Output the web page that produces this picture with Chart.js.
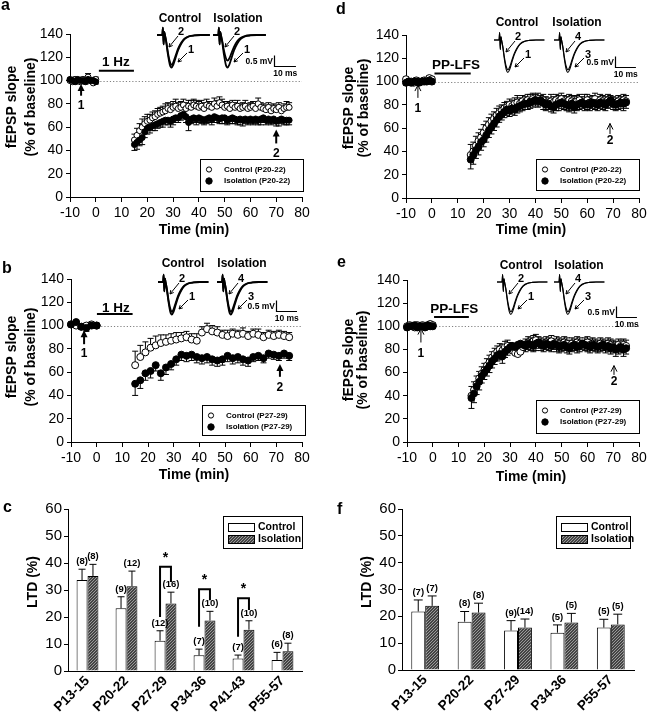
<!DOCTYPE html>
<html>
<head>
<meta charset="utf-8">
<script src="https://cdn.jsdelivr.net/npm/chart.js@4.4.1/dist/chart.umd.min.js"></script>
<style>
  html, body { margin: 0; padding: 0; background: #fff; }
  body { position: relative; width: 648px; height: 713px; overflow: hidden; }
  canvas { position: absolute; }
</style>
</head>
<body>
<canvas id="chart-a"></canvas>
<canvas id="chart-b"></canvas>
<canvas id="chart-c"></canvas>
<canvas id="chart-d"></canvas>
<canvas id="chart-e"></canvas>
<canvas id="chart-f"></canvas>
<script>
const FONT = "'Liberation Sans', Arial, Helvetica, sans-serif";
Chart.defaults.font.family = FONT;
Chart.defaults.color = "#000";
Chart.defaults.animation = false;
Chart.defaults.plugins.legend.display = false;
Chart.defaults.plugins.tooltip.enabled = false;

// ---- time axes (min) ----
const baseT = [-10, -9, -8, -7, -6, -5, -4, -3, -2, -1, 0];
const postT = [15, 16, 17, 18, 19, 20, 21, 22, 23, 24, 25, 26, 27, 28, 29, 30, 31, 32, 33, 34, 35, 36, 37, 38, 39, 40,
  41, 42, 43, 44, 45, 46, 47, 48, 49, 50, 51, 52, 53, 54, 55, 56, 57, 58, 59, 60, 61, 62, 63, 64, 65, 66, 67, 68, 69, 70,
  71, 72, 73, 74, 75];
const baseT2 = [-10, -8, -6, -4, -2, 0];
const postT2 = [15, 17, 19, 21, 23, 25, 27, 29, 31, 33, 35, 37, 39, 41, 43, 45, 47, 49, 51, 53, 55, 57, 59, 61, 63, 65,
  67, 69, 71, 73, 75];
const timeA = baseT.concat(postT);
const timeB = baseT2.concat(postT2);

// ---- panel a: 1 Hz, P20-22 (baseline values first, then post-stimulation) ----
const aControl = [100, 99, 101, 100, 99, 101, 100, 103, 100, 98, 101,
  49, 53, 57, 60, 63, 65, 66, 68, 69, 71, 72, 73, 74, 76, 75, 77, 78, 76, 77, 79, 76, 78, 77, 79, 78, 77, 78, 76, 79, 78,
  77, 80, 78, 81, 79, 77, 78, 76, 79, 77, 78, 76, 77, 78, 76, 77, 78, 76, 80, 77, 76, 75, 77, 74, 76, 75, 77, 74, 76, 77, 77];
const aControlErr = [2, 2, 2, 2, 2, 2, 2, 3, 2, 2, 2,
  5, 6, 6, 7, 6, 6, 5, 5, 5, 5, 5, 5, 6, 5, 5, 5, 6, 5, 5, 5, 5, 5, 6, 5, 5, 5, 5, 5, 5, 4,
  5, 5, 5, 5, 5, 5, 4, 5, 4, 4, 5, 4, 4, 5, 4, 4, 4, 4, 5, 4, 4, 4, 4, 5, 4, 4, 4, 4, 4, 5, 4];
const aIsolation = [101, 100, 99, 101, 100, 100, 99, 101, 100, 100, 99,
  45, 47, 49, 51, 56, 59, 60, 61, 62, 63, 64, 65, 66, 66, 65, 67, 68, 68, 70, 71, 69, 64, 67, 68, 67, 68, 67, 66, 67, 68,
  67, 69, 68, 67, 68, 68, 66, 67, 68, 67, 66, 67, 66, 67, 66, 67, 66, 67, 66, 67, 68, 66, 67, 66, 67, 65, 66, 67, 66, 66, 66];
const aIsolationErr = [2, 2, 2, 2, 2, 2, 2, 2, 2, 2, 2,
  5, 6, 5, 6, 5, 5, 5, 4, 5, 4, 4, 5, 4, 4, 5, 5, 4, 4, 4, 4, 5, 7, 4, 4, 5, 4, 4, 4, 4, 4,
  5, 5, 4, 4, 5, 5, 4, 4, 5, 4, 4, 5, 5, 4, 4, 4, 4, 4, 4, 5, 4, 4, 4, 4, 4, 4, 5, 4, 4, 4, 4];

// ---- panel b: 1 Hz, P27-29 ----
const bControl = [101, 100, 99, 100, 101, 100,
  66, 73, 77, 81, 83, 85, 86, 87, 88, 89, 90, 88, 87, 94, 97, 95, 94, 92, 91, 93, 92, 93, 91, 93, 92, 90, 92, 91, 92, 91, 90];
const bControlErr = [2, 2, 2, 2, 2, 2,
  12, 10, 9, 8, 8, 7, 6, 6, 6, 5, 5, 5, 6, 5, 5, 5, 5, 4, 5, 4, 4, 5, 4, 4, 5, 4, 4, 4, 4, 4, 4];
const bIsolation = [101, 103, 99, 98, 100, 100,
  50, 53, 59, 61, 66, 59, 64, 67, 71, 75, 74, 75, 73, 72, 73, 71, 70, 71, 74, 72, 73, 71, 70, 73, 74, 72, 76, 75, 74, 76, 74];
const bIsolationErr = [2, 2, 2, 3, 2, 2,
  10, 7, 6, 6, 5, 6, 6, 5, 5, 5, 5, 5, 5, 5, 5, 5, 5, 5, 5, 5, 5, 5, 5, 4, 4, 4, 4, 4, 4, 4, 4];

// ---- panel d: PP-LFS, P20-22 ----
const dControl = [102, 100, 100, 99, 101, 100, 100, 101, 101, 103, 102,
  37, 40, 45, 49, 52, 56, 60, 63, 66, 68, 71, 73, 75, 77, 78, 80, 79, 81, 82, 81, 83, 82, 84, 83, 85, 84, 85, 83, 84, 82,
  81, 83, 82, 84, 83, 85, 83, 82, 84, 83, 82, 83, 84, 82, 83, 84, 82, 83, 85, 82, 84, 83, 82, 84, 83, 82, 81, 83, 82, 84, 83];
const dControlErr = [2, 2, 2, 2, 2, 2, 2, 2, 2, 2, 2,
  9, 8, 8, 7, 7, 7, 6, 6, 6, 6, 6, 6, 5, 5, 5, 5, 5, 5, 6, 5, 5, 5, 5, 6, 5, 5, 5, 5, 5, 5,
  5, 6, 5, 5, 5, 5, 5, 5, 5, 5, 5, 5, 5, 5, 6, 5, 5, 5, 5, 5, 5, 5, 5, 5, 5, 5, 5, 5, 5, 5, 5];
const dIsolation = [99, 100, 99, 100, 100, 99, 100, 100, 100, 101, 100,
  33, 37, 41, 44, 48, 50, 54, 58, 61, 64, 67, 70, 72, 74, 76, 75, 77, 76, 78, 79, 80, 81, 81, 82, 83, 84, 83, 84, 82, 80,
  81, 79, 78, 80, 81, 82, 81, 80, 79, 81, 78, 80, 81, 82, 80, 81, 80, 82, 81, 80, 82, 81, 80, 82, 84, 81, 80, 81, 82, 81, 82];
const dIsolationErr = [2, 2, 2, 2, 2, 2, 2, 2, 2, 2, 2,
  8, 8, 7, 7, 7, 6, 6, 6, 6, 6, 6, 5, 5, 5, 5, 5, 5, 5, 5, 5, 5, 5, 5, 5, 5, 5, 5, 5, 6, 5,
  5, 5, 5, 5, 6, 5, 5, 5, 5, 6, 5, 5, 5, 5, 5, 5, 5, 5, 5, 5, 5, 5, 5, 5, 6, 5, 5, 5, 5, 6, 5];

// ---- panel e: PP-LFS, P27-29 ----
const eControl = [100, 101, 100, 99, 101, 100, 101, 100, 100, 102, 101,
  40, 45, 50, 55, 59, 62, 66, 69, 73, 76, 78, 80, 79, 82, 83, 81, 79, 77, 76, 78, 82, 84, 86, 85, 87, 88, 86, 85, 84, 86,
  85, 87, 84, 86, 85, 84, 86, 85, 83, 85, 84, 86, 85, 83, 85, 86, 84, 85, 84, 83, 85, 84, 83, 85, 84, 83, 82, 84, 83, 84, 83];
const eControlErr = [2, 2, 2, 2, 2, 2, 2, 2, 2, 2, 2,
  8, 7, 7, 6, 6, 6, 6, 6, 5, 5, 5, 5, 5, 5, 5, 5, 5, 5, 5, 4, 5, 5, 5, 5, 5, 5, 5, 5, 5, 5,
  5, 5, 5, 5, 5, 5, 5, 5, 5, 5, 5, 5, 5, 5, 5, 5, 5, 5, 5, 5, 5, 5, 5, 5, 5, 5, 5, 5, 5, 5, 5];
const eIsolation = [99, 100, 100, 101, 99, 100, 100, 99, 101, 100, 100,
  38, 42, 48, 52, 57, 60, 63, 66, 70, 72, 75, 76, 74, 78, 80, 82, 83, 82, 84, 85, 84, 83, 85, 84, 83, 85, 86, 84, 83, 85,
  84, 83, 85, 84, 82, 83, 84, 82, 81, 83, 84, 82, 83, 85, 84, 83, 82, 84, 83, 82, 83, 84, 82, 83, 81, 82, 80, 81, 82, 80, 81];
const eIsolationErr = [2, 2, 2, 2, 2, 2, 2, 2, 2, 2, 2,
  9, 8, 7, 7, 6, 6, 6, 6, 6, 5, 5, 5, 6, 5, 5, 5, 5, 5, 5, 5, 5, 5, 5, 5, 5, 6, 5, 5, 5, 5,
  5, 5, 5, 6, 5, 5, 5, 5, 5, 5, 5, 5, 5, 5, 5, 5, 5, 5, 5, 5, 5, 5, 5, 5, 5, 5, 6, 5, 5, 6, 5];

// ---- inset fEPSP traces (ms, mV) ----
const traceMs = [0, 2.4, 2.7, 3.0, 3.3, 3.6, 4.2, 5.0, 5.8, 6.6, 7.4, 8.4, 9.6, 11, 12.5, 14.5, 17, 20, 24];
const traceDeep = [0, 0, 0.35, -0.45, 0.15, 0, -0.35, -0.95, -1.4, -1.55, -1.42, -1.1, -0.72, -0.42, -0.2, -0.07, -0.02, 0, 0];
const traceMid = [0, 0, 0.35, -0.45, 0.15, 0, -0.3, -0.85, -1.25, -1.42, -1.3, -1.0, -0.65, -0.37, -0.17, -0.06, -0.02, 0, 0];
const traceShallow = [0, 0, 0.35, -0.45, 0.15, 0, -0.28, -0.75, -1.08, -1.22, -1.12, -0.86, -0.55, -0.3, -0.14, -0.05, -0.01, 0, 0];

// ---- LTD bar data ----
const cCategories = ["P13-15", "P20-22", "P27-29", "P34-36", "P41-43", "P55-57"];
const cControl = [33.7, 23.2, 11.2, 5.8, 4.6, 4.1];
const cControlErr = [4.0, 4.3, 3.7, 2.3, 1.3, 2.8];
const cIsolation = [35.2, 31.4, 25.0, 18.7, 15.3, 7.3];
const cIsolationErr = [4.3, 5.6, 4.2, 3.4, 3.3, 3.0];
const cControlN = [8, 9, 12, 7, 7, 6];
const cIsolationN = [8, 12, 16, 10, 10, 8];
const cSignificance = [
  { i: 2, top: 38.6, left: 20, right: 33 },
  { i: 3, top: 30.3, left: 16.4, right: 26.2 },
  { i: 4, top: 26.9, left: 12.7, right: 22.6 },
];

const fCategories = ["P13-15", "P20-22", "P27-29", "P34-36", "P55-57"];
const fControl = [21.8, 18.0, 14.7, 13.9, 15.8];
const fControlErr = [4.3, 3.8, 3.7, 2.9, 3.1];
const fIsolation = [23.9, 21.4, 15.8, 17.7, 17.0];
const fIsolationErr = [3.7, 3.5, 3.2, 3.4, 3.8];
const fControlN = [7, 8, 9, 5, 5];
const fIsolationN = [7, 8, 14, 5, 5];

// ---------- helpers ----------
function pts(ts, vs) {
  return ts.map((t, i) => ({ x: t, y: vs[i] }));
}

function font(size, bold) {
  return (bold ? "bold " : "") + size + "px " + FONT;
}

function label(ctx, s, x, y, size, bold, align, base) {
  ctx.font = font(size, bold);
  ctx.fillStyle = "#000";
  ctx.textAlign = align || "center";
  ctx.textBaseline = base || "middle";
  ctx.fillText(s, x, y);
}

function vLabel(ctx, lines, xs, y, size) {
  lines.forEach((s, i) => {
    ctx.save();
    ctx.translate(xs[i], y);
    ctx.rotate(-Math.PI / 2);
    label(ctx, s, 0, 0, size, true);
    ctx.restore();
  });
}

// canvas placed at box; chart area forced to area (page coordinates)
function place(canvas, box, area) {
  canvas.width = box.w;
  canvas.height = box.h;
  Object.assign(canvas.style, {
    left: box.x + "px", top: box.y + "px", width: box.w + "px", height: box.h + "px",
  });
  return {
    padding: { left: 0, top: area.t - box.y, right: box.x + box.w - area.r, bottom: 0 },
    fitX: (s) => { s.height = box.y + box.h - area.b; s.paddingLeft = 0; s.paddingRight = 0; },
    fitY: (s) => { s.width = area.l - box.x; s.paddingTop = 0; s.paddingBottom = 0; },
  };
}

// fine stipple fill for the Isolation bars
function makeHatch() {
  const c = document.createElement("canvas");
  c.width = 3;
  c.height = 3;
  const g = c.getContext("2d");
  g.fillStyle = "#444";
  g.fillRect(0, 0, 3, 3);
  g.fillStyle = "#9a9a9a";
  for (let i = 0; i < 3; i++) g.fillRect(i, 2 - i, 1, 1);
  return g.createPattern(c, "repeat");
}
const HATCH = makeHatch();

// ---------- time course panels ----------
function timeDecor(p) {
  const lx = (x) => x - p.box.x;
  const ly = (y) => y - p.box.y;
  return {
    id: "decor",
    beforeDatasetsDraw(chart) {
      const { ctx, scales: { x, y } } = chart;
      ctx.save();
      // dotted 100% line
      ctx.strokeStyle = "#808080";
      ctx.lineWidth = 1;
      ctx.setLineDash([1.2, 2]);
      const y100 = Math.round(y.getPixelForValue(100)) + 0.5;
      ctx.beginPath();
      ctx.moveTo(x.getPixelForValue(p.dotted[0]), y100);
      ctx.lineTo(x.getPixelForValue(p.dotted[1]), y100);
      ctx.stroke();
      ctx.setLineDash([]);
      // error bars
      ctx.strokeStyle = "#000";
      ctx.lineWidth = 1;
      ctx.beginPath();
      chart.data.datasets.forEach((ds, di) => {
        if (!ds.errors) return;
        chart.getDatasetMeta(di).data.forEach((pt, i) => {
          const y2 = y.getPixelForValue(ds.data[i].y + ds.errDir * ds.errors[i]);
          ctx.moveTo(pt.x, pt.y);
          ctx.lineTo(pt.x, y2);
          ctx.moveTo(pt.x - 3, y2);
          ctx.lineTo(pt.x + 3, y2);
        });
      });
      ctx.stroke();
      ctx.restore();
    },
    afterDatasetsDraw(chart) {
      const { ctx, scales } = chart;
      const { x, y } = scales;
      ctx.save();
      // panel letter and axis titles
      label(ctx, p.letter, lx(p.letterAt[0]), ly(p.letterAt[1]), 16, true, "left", "alphabetic");
      label(ctx, "Time (min)", lx(p.xTitle[0]), ly(p.xTitle[1]), 14, true);
      vLabel(ctx, ["fEPSP slope", "(% of baseline)"], p.yTitle.x.map(lx), ly(p.yTitle.y), 14);

      // stimulation bar
      const s = p.stim;
      ctx.strokeStyle = "#000";
      ctx.lineWidth = 2;
      ctx.beginPath();
      ctx.moveTo(x.getPixelForValue(s.from), y.getPixelForValue(s.at));
      ctx.lineTo(x.getPixelForValue(s.to), y.getPixelForValue(s.at));
      ctx.stroke();
      label(ctx, s.text, x.getPixelForValue(s.textT), y.getPixelForValue(s.textAt), 13.5, true);

      // sample arrows 1, 2
      p.arrows.forEach((a) => {
        const ax = x.getPixelForValue(a.t);
        const tip = y.getPixelForValue(a.tip);
        const tail = y.getPixelForValue(a.tail);
        ctx.beginPath();
        if (p.heavy) {
          ctx.lineWidth = 2;
          ctx.moveTo(ax, tip + 5);
          ctx.lineTo(ax, tail);
          ctx.stroke();
          ctx.beginPath();
          ctx.moveTo(ax, tip);
          ctx.lineTo(ax - 3.5, tip + 7);
          ctx.lineTo(ax + 3.5, tip + 7);
          ctx.closePath();
          ctx.fillStyle = "#000";
          ctx.fill();
        } else {
          ctx.lineWidth = 1;
          ctx.moveTo(ax, tip);
          ctx.lineTo(ax, tail);
          ctx.moveTo(ax - 3, tip + 6);
          ctx.lineTo(ax, tip);
          ctx.lineTo(ax + 3, tip + 6);
          ctx.stroke();
        }
        label(ctx, a.label, ax, y.getPixelForValue(a.at), 12, true);
      });

      // legend box
      const lg = p.legend;
      ctx.lineWidth = 1;
      ctx.strokeStyle = "#000";
      ctx.strokeRect(Math.round(lx(lg.x)) + 0.5, Math.round(ly(lg.y)) + 0.5, lg.w, lg.h);
      [0, 1].forEach((di) => {
        const ds = chart.data.datasets[di];
        const ry = ly(lg.y) + (di === 0 ? 10.5 : 22);
        ctx.beginPath();
        ctx.arc(lx(lg.x) + 9, ry, di === 0 ? 2.6 : 3.2, 0, Math.PI * 2);
        ctx.fillStyle = ds.pointBackgroundColor;
        ctx.fill();
        ctx.lineWidth = 1;
        ctx.stroke();
        label(ctx, ds.label, lx(lg.x) + 24, ry, 8, true, "left");
      });

      // inset titles, trace numbers and scale bar
      const ins = p.inset;
      label(ctx, "Control", lx(ins.ctrlTitle[0]), ly(ins.ctrlTitle[1]), 12, true);
      label(ctx, "Isolation", lx(ins.isoTitle[0]), ly(ins.isoTitle[1]), 12, true);
      const ty = scales.ty;
      [["tc", ins.ctrlNums], ["ti", ins.isoNums]].forEach(([axis, nums]) => {
        const ox = scales[axis].getPixelForValue(0);
        const oy = ty.getPixelForValue(0);
        const marks = [
          { n: nums[0], t: [24, -3], a: [21, 1], b: [12, 12] },
          { n: nums[1], t: [34, 15], a: [30, 18], b: [21, 27] },
        ];
        marks.forEach((m) => {
          label(ctx, m.n, ox + m.t[0], oy + m.t[1], 11, true);
          const x1 = ox + m.a[0], y1 = oy + m.a[1], x2 = ox + m.b[0], y2 = oy + m.b[1];
          ctx.lineWidth = 1;
          ctx.beginPath();
          ctx.moveTo(x1, y1);
          ctx.lineTo(x2, y2);
          const ang = Math.atan2(y2 - y1, x2 - x1);
          ctx.moveTo(x2 - 4 * Math.cos(ang - 0.5), y2 - 4 * Math.sin(ang - 0.5));
          ctx.lineTo(x2, y2);
          ctx.lineTo(x2 - 4 * Math.cos(ang + 0.5), y2 - 4 * Math.sin(ang + 0.5));
          ctx.stroke();
        });
      });
      const bx = Math.round(scales.ti.getPixelForValue(ins.bar.ms)) + 0.5;
      const by = Math.round(ty.getPixelForValue(ins.bar.mv)) + 0.5;
      const byTop = ty.getPixelForValue(ins.bar.mv + 0.5);
      const bxEnd = scales.ti.getPixelForValue(ins.bar.ms + 10);
      ctx.lineWidth = 1.2;
      ctx.beginPath();
      ctx.moveTo(bx, byTop);
      ctx.lineTo(bx, by);
      ctx.lineTo(bxEnd, by);
      ctx.stroke();
      label(ctx, "0.5 mV", bx - 1.5, (by + byTop) / 2 + 1, 8.5, true, "right");
      label(ctx, "10 ms", (bx + bxEnd) / 2, by + 7, 8.5, true);
      ctx.restore();
    },
  };
}

function renderTimeCourse(id, p) {
  const canvas = document.getElementById(id);
  const lay = place(canvas, p.box, p.area);
  const W = p.area.r - p.area.l;
  const H = p.area.b - p.area.t;
  const ins = p.inset;
  const tcMin = (p.area.l - ins.ctrlX) / ins.pxMs;
  const tiMin = (p.area.l - ins.isoX) / ins.pxMs;
  const tyMax = (ins.baseY - p.area.t) / ins.pxMv;

  const traceSet = (vals, axis) => ({
    type: "line",
    data: pts(traceMs, vals),
    xAxisID: axis,
    yAxisID: "ty",
    borderColor: "#000",
    borderWidth: p.heavy ? 1.8 : 1.1,
    pointRadius: 0,
    tension: 0.4,
    cubicInterpolationMode: "monotone",
    clip: false,
    order: 3,
  });

  const axisStyle = {
    grid: { drawOnChartArea: false, color: "#000" },
    border: { color: "#000", width: 1 },
  };

  new Chart(canvas, {
    type: "scatter",
    data: {
      datasets: [
        {
          label: p.labels[0], data: pts(p.t, p.ctrl), errors: p.ctrlErr, errDir: 1,
          pointRadius: p.r, pointBackgroundColor: "#fff", pointBorderColor: "#000", pointBorderWidth: 1,
          order: 1, clip: false,
        },
        {
          label: p.labels[1], data: pts(p.t, p.iso), errors: p.isoErr, errDir: -1,
          pointRadius: p.r, pointBackgroundColor: "#000", pointBorderColor: "#000", pointBorderWidth: 1,
          order: 0, clip: false,
        },
        ...ins.ctrlTraces.map((v) => traceSet(v, "tc")),
        ...ins.isoTraces.map((v) => traceSet(v, "ti")),
      ],
    },
    options: {
      responsive: false,
      events: [],
      layout: { padding: lay.padding, autoPadding: false },
      scales: {
        x: {
          type: "linear", min: -10, max: 80,
          ticks: { stepSize: 10, font: { size: 14 }, padding: 3, minRotation: 0, maxRotation: 0, autoSkip: false },
          grid: { ...axisStyle.grid, tickLength: 5 }, border: axisStyle.border,
          afterFit: lay.fitX,
        },
        y: {
          type: "linear", min: 0, max: 140,
          ticks: { stepSize: 20, font: { size: 14 }, padding: 3, autoSkip: false },
          grid: { ...axisStyle.grid, tickLength: 4 }, border: axisStyle.border,
          afterFit: lay.fitY,
        },
        tc: { type: "linear", axis: "x", display: false, bounds: "data", min: tcMin, max: tcMin + W / ins.pxMs },
        ti: { type: "linear", axis: "x", display: false, bounds: "data", min: tiMin, max: tiMin + W / ins.pxMs },
        ty: { type: "linear", axis: "y", display: false, bounds: "data", min: tyMax - H / ins.pxMv, max: tyMax },
      },
    },
    plugins: [timeDecor(p)],
  });
}

// ---------- LTD bar panels ----------
function barDecor(p) {
  const lx = (x) => x - p.box.x;
  const ly = (y) => y - p.box.y;
  return {
    id: "decor",
    afterDatasetsDraw(chart) {
      const { ctx, scales: { y } } = chart;
      ctx.save();
      label(ctx, p.letter, lx(p.letterAt[0]), ly(p.letterAt[1]), 16, true, "left", "alphabetic");
      vLabel(ctx, ["LTD (%)"], [lx(p.yTitle.x)], ly(p.yTitle.y), 14);

      // error bars and n labels
      ctx.strokeStyle = "#000";
      ctx.lineWidth = 1;
      chart.data.datasets.forEach((ds, di) => {
        chart.getDatasetMeta(di).data.forEach((bar, i) => {
          const top = y.getPixelForValue(ds.data[i] + ds.errors[i]);
          const cap = bar.width * 0.32;
          ctx.beginPath();
          ctx.moveTo(bar.x, bar.y);
          ctx.lineTo(bar.x, top);
          ctx.moveTo(bar.x - cap, top);
          ctx.lineTo(bar.x + cap, top);
          ctx.stroke();
          label(ctx, "(" + ds.n[i] + ")", bar.x, top - 3, 9.5, true, "center", "bottom");
        });
      });

      // significance brackets
      (p.sig || []).forEach((s) => {
        const x1 = chart.getDatasetMeta(0).data[s.i].x;
        const x2 = chart.getDatasetMeta(1).data[s.i].x;
        const yt = y.getPixelForValue(s.top);
        ctx.lineWidth = 2;
        ctx.beginPath();
        ctx.moveTo(x1, y.getPixelForValue(s.left));
        ctx.lineTo(x1, yt);
        ctx.lineTo(x2, yt);
        ctx.lineTo(x2, y.getPixelForValue(s.right));
        ctx.stroke();
        label(ctx, "*", (x1 + x2) / 2, yt - 2, 14, true, "center", "bottom");
      });

      // legend
      const lg = p.legend;
      ctx.lineWidth = 1;
      ctx.strokeRect(Math.round(lx(lg.x)) + 0.5, Math.round(ly(lg.y)) + 0.5, lg.w, lg.h);
      chart.data.datasets.forEach((ds, di) => {
        const ry = ly(lg.y) + (di === 0 ? 11 : 23);
        const sx = Math.round(lx(lg.x) + 5) + 0.5;
        ctx.fillStyle = ds.backgroundColor;
        ctx.fillRect(sx, Math.round(ry - 4) + 0.5, 26, 8);
        ctx.strokeRect(sx, Math.round(ry - 4) + 0.5, 26, 8);
        label(ctx, ds.label, lx(lg.x) + 35, ry, 10.5, true, "left");
      });
      ctx.restore();
    },
  };
}

function renderBars(id, p) {
  const canvas = document.getElementById(id);
  const lay = place(canvas, p.box, p.area);
  new Chart(canvas, {
    type: "bar",
    data: {
      labels: p.cats,
      datasets: [
        { label: "Control", data: p.ctrl, errors: p.ctrlErr, n: p.ctrlN, backgroundColor: "#fff", borderColor: "#000", borderWidth: 1 },
        { label: "Isolation", data: p.iso, errors: p.isoErr, n: p.isoN, backgroundColor: HATCH, borderColor: "#000", borderWidth: 1 },
      ],
    },
    options: {
      responsive: false,
      events: [],
      layout: { padding: lay.padding, autoPadding: false },
      datasets: { bar: { categoryPercentage: p.catPct, barPercentage: 1 } },
      scales: {
        x: {
          ticks: { font: { size: 13.5, weight: "bold" }, minRotation: 45, maxRotation: 45, padding: 2, autoSkip: false },
          grid: { display: false, drawTicks: false },
          border: { color: "#000", width: 1 },
          afterFit: lay.fitX,
        },
        y: {
          min: 0, max: 60,
          ticks: { stepSize: 10, font: { size: 15 }, padding: 2, autoSkip: false },
          grid: { drawOnChartArea: false, color: "#000", tickLength: 4 },
          border: { color: "#000", width: 1 },
          afterFit: lay.fitY,
        },
      },
    },
    plugins: [barDecor(p)],
  });
}

// ---------- panels ----------
renderTimeCourse("chart-a", {
  box: { x: 0, y: 0, w: 324, h: 240 }, area: { l: 70, r: 302, t: 34, b: 197 },
  letter: "a", letterAt: [1, 10], xTitle: [194, 230], yTitle: { x: [12, 31], y: 107 },
  t: timeA, ctrl: aControl, ctrlErr: aControlErr, iso: aIsolation, isoErr: aIsolationErr,
  labels: ["Control (P20-22)", "Isolation (P20-22)"], r: 3, heavy: true,
  dotted: [0.5, 80],
  stim: { text: "1 Hz", from: 1.2, to: 14.8, at: 108.5, textT: 7.8, textAt: 116 },
  arrows: [
    { t: -5.7, tip: 97, tail: 87, label: "1", at: 78 },
    { t: 70, tip: 58, tail: 46, label: "2", at: 37 },
  ],
  legend: { x: 200, y: 159, w: 103, h: 32 },
  inset: {
    ctrlX: 157, isoX: 213, baseY: 35, pxMs: 2.2, pxMv: 21,
    ctrlTraces: [traceDeep, traceMid], isoTraces: [traceShallow, traceDeep],
    ctrlNums: ["2", "1"], isoNums: ["2", "1"],
    ctrlTitle: [180, 19], isoTitle: [238, 19], bar: { ms: 27.7, mv: -1.48 },
  },
});

renderTimeCourse("chart-b", {
  box: { x: 0, y: 240, w: 324, h: 245 }, area: { l: 71, r: 302, t: 279, b: 442 },
  letter: "b", letterAt: [2, 273], xTitle: [194, 475], yTitle: { x: [12, 31], y: 357 },
  t: timeB, ctrl: bControl, ctrlErr: bControlErr, iso: bIsolation, isoErr: bIsolationErr,
  labels: ["Control (P27-29)", "Isolation (P27-29)"], r: 3.5, heavy: true,
  dotted: [0.5, 80],
  stim: { text: "1 Hz", from: 0.1, to: 14, at: 110, textT: 7.5, textAt: 114.5 },
  arrows: [
    { t: -4.9, tip: 96, tail: 84, label: "1", at: 76 },
    { t: 71.4, tip: 67, tail: 56, label: "2", at: 47 },
  ],
  legend: { x: 202, y: 405, w: 103, h: 30 },
  inset: {
    ctrlX: 158, isoX: 217, baseY: 282, pxMs: 2.1, pxMv: 21,
    ctrlTraces: [traceDeep, traceMid], isoTraces: [traceDeep, traceMid],
    ctrlNums: ["2", "1"], isoNums: ["4", "3"],
    ctrlTitle: [183, 264], isoTitle: [242, 264], bar: { ms: 28.1, mv: -1.38 },
  },
});

renderTimeCourse("chart-d", {
  box: { x: 324, y: 0, w: 324, h: 240 }, area: { l: 406, r: 639, t: 35, b: 198 },
  letter: "d", letterAt: [336, 14], xTitle: [531, 230], yTitle: { x: [349, 364], y: 108 },
  t: timeA, ctrl: dControl, ctrlErr: dControlErr, iso: dIsolation, isoErr: dIsolationErr,
  labels: ["Control (P20-22)", "Isolation (P20-22)"], r: 3.5, heavy: false,
  dotted: [0, 80],
  stim: { text: "PP-LFS", from: 1, to: 15, at: 107, textT: 9.3, textAt: 114 },
  arrows: [
    { t: -5.4, tip: 97, tail: 86, label: "1", at: 77 },
    { t: 68.8, tip: 64, tail: 55, label: "2", at: 49 },
  ],
  legend: { x: 536, y: 159, w: 103, h: 31 },
  inset: {
    ctrlX: 494, isoX: 554, baseY: 40, pxMs: 2.1, pxMv: 21,
    ctrlTraces: [traceDeep, traceMid], isoTraces: [traceDeep, traceMid],
    ctrlNums: ["2", "1"], isoNums: ["4", "3"],
    ctrlTitle: [517, 23], isoTitle: [577, 23], bar: { ms: 29, mv: -1.29 },
  },
});

renderTimeCourse("chart-e", {
  box: { x: 324, y: 240, w: 324, h: 245 }, area: { l: 407, r: 639, t: 280, b: 442 },
  letter: "e", letterAt: [337, 267], xTitle: [531, 477], yTitle: { x: [349, 363], y: 360 },
  t: timeA, ctrl: eControl, ctrlErr: eControlErr, iso: eIsolation, isoErr: eIsolationErr,
  labels: ["Control (P27-29)", "Isolation (P27-29)"], r: 3.5, heavy: false,
  dotted: [0, 80],
  stim: { text: "PP-LFS", from: 0.5, to: 14, at: 108, textT: 8.3, textAt: 114.5 },
  arrows: [
    { t: -4.6, tip: 98, tail: 86, label: "1", at: 76 },
    { t: 70.3, tip: 66, tail: 58, label: "2", at: 52 },
  ],
  legend: { x: 536, y: 400, w: 103, h: 33 },
  inset: {
    ctrlX: 497, isoX: 554, baseY: 282, pxMs: 2.1, pxMv: 21,
    ctrlTraces: [traceDeep, traceMid], isoTraces: [traceDeep, traceMid],
    ctrlNums: ["2", "1"], isoNums: ["4", "3"],
    ctrlTitle: [521, 266], isoTitle: [579, 266], bar: { ms: 29.5, mv: -1.67 },
  },
});

renderBars("chart-c", {
  box: { x: 0, y: 470, w: 324, h: 243 }, area: { l: 68, r: 302, t: 509, b: 671 },
  letter: "c", letterAt: [3, 512], yTitle: { x: 33, y: 582 },
  cats: cCategories, ctrl: cControl, ctrlErr: cControlErr, iso: cIsolation, isoErr: cIsolationErr,
  ctrlN: cControlN, isoN: cIsolationN, sig: cSignificance, catPct: 0.56,
  legend: { x: 223, y: 516, w: 79, h: 32 },
});

renderBars("chart-f", {
  box: { x: 324, y: 470, w: 324, h: 243 }, area: { l: 402, r: 634, t: 509, b: 670 },
  letter: "f", letterAt: [337, 514], yTitle: { x: 367, y: 582 },
  cats: fCategories, ctrl: fControl, ctrlErr: fControlErr, iso: fIsolation, isoErr: fIsolationErr,
  ctrlN: fControlN, isoN: fIsolationN, sig: [], catPct: 0.6,
  legend: { x: 556, y: 516, w: 74, h: 32 },
});
</script>
</body>
</html>
